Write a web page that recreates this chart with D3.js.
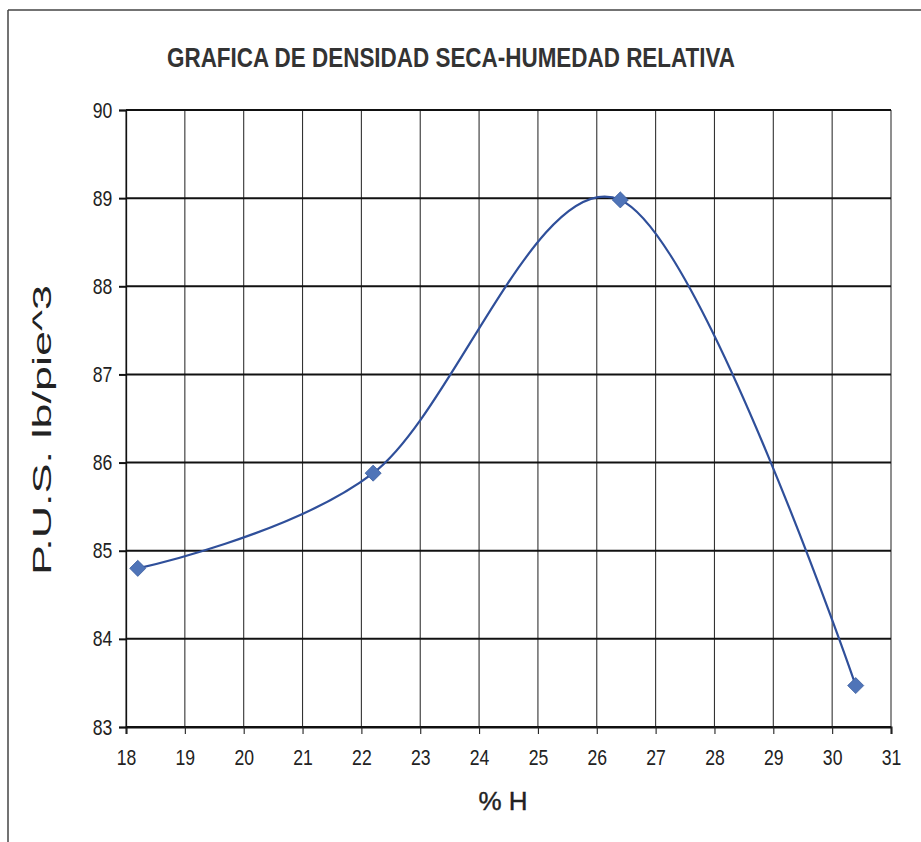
<!DOCTYPE html>
<html>
<head>
<meta charset="utf-8">
<script src="https://cdn.jsdelivr.net/npm/d3@7"></script>
<style>
  html, body { margin: 0; padding: 0; background: #fff; }
  svg { display: block; }
</style>
</head>
<body>
<svg id="chart" width="921" height="842"></svg>
<script>
// ---- data ----
const humedad = [18.2, 22.2, 26.4, 30.4];          // % H
const densidad = [84.8, 85.88, 88.98, 83.47];     // P.U.S. lb/pie^3
const xTicks = [18, 19, 20, 21, 22, 23, 24, 25, 26, 27, 28, 29, 30, 31];
const yTicks = [83, 84, 85, 86, 87, 88, 89, 90];
const titleText = "GRAFICA DE DENSIDAD SECA-HUMEDAD RELATIVA";
const xTitle = "% H";
const yTitle = "P.U.S. lb/pie^3";

const svg = d3.select("#chart");
const font = "'Liberation Sans', Arial, sans-serif";

// outer frame
svg.append("line").attr("x1", 8).attr("x2", 8).attr("y1", 10).attr("y2", 842)
  .attr("stroke", "#444").attr("stroke-width", 1.5);
svg.append("line").attr("x1", 8).attr("x2", 921).attr("y1", 10).attr("y2", 10)
  .attr("stroke", "#444").attr("stroke-width", 1.5);

const x = d3.scaleLinear().domain([18, 31]).range([126, 891]);
const y = d3.scaleLinear().domain([83, 90]).range([727, 110]);

// vertical grid
svg.append("g").selectAll("line").data(xTicks).join("line")
  .attr("x1", d => x(d)).attr("x2", d => x(d))
  .attr("y1", y(90)).attr("y2", y(83))
  .attr("stroke", "#333").attr("stroke-width", 1.1);

// horizontal grid
svg.append("g").selectAll("line").data(yTicks).join("line")
  .attr("x1", x(18)).attr("x2", x(31))
  .attr("y1", d => y(d)).attr("y2", d => y(d))
  .attr("stroke", "#111").attr("stroke-width", 2);

// axes
const xAxis = d3.axisBottom(x).tickValues(xTicks).tickSize(7).tickPadding(15).tickFormat(d3.format("d"));
const gx = svg.append("g").attr("transform", `translate(0,${y(83)})`).call(xAxis);
gx.select(".domain").attr("stroke", "#111").attr("stroke-width", 2);
gx.selectAll(".tick line").attr("stroke", "#222").attr("stroke-width", 1.1);
gx.selectAll("text").attr("font-family", font).attr("font-size", 22).attr("fill", "#222")
  .attr("transform", "scale(0.8,1)");

const yAxis = d3.axisLeft(y).tickValues(yTicks).tickSize(7).tickPadding(7).tickFormat(d3.format("d"));
const gy = svg.append("g").attr("transform", `translate(${x(18)},0)`).call(yAxis);
gy.select(".domain").attr("stroke", "#111").attr("stroke-width", 1.3);
gy.selectAll(".tick line").attr("stroke", "#111").attr("stroke-width", 2);
gy.selectAll("text").attr("font-family", font).attr("font-size", 22).attr("fill", "#222")
  .attr("x", -17).attr("transform", "scale(0.8,1)");

// smoothed curve
const pts = humedad.map((h, i) => [h, densidad[i]]);
const line = d3.line().x(d => x(d[0])).y(d => y(d[1])).curve(d3.curveCatmullRom.alpha(0));
svg.append("path").datum(pts).attr("d", line)
  .attr("fill", "none").attr("stroke", "#2f4f9a").attr("stroke-width", 2.2);

// diamond markers
svg.append("g").selectAll("path").data(pts).join("path")
  .attr("d", d3.symbol().type(d3.symbolDiamond2).size(165))
  .attr("transform", d => `translate(${x(d[0])},${y(d[1])})`)
  .attr("fill", "#4f74b8").attr("stroke", "#3d5f9f").attr("stroke-width", 0.8);

// title
svg.append("text").attr("x", 451).attr("y", 67).attr("text-anchor", "middle")
  .attr("font-family", font).attr("font-weight", "bold").attr("font-size", 27)
  .attr("fill", "#333").attr("textLength", 568).attr("lengthAdjust", "spacingAndGlyphs")
  .text(titleText);

// x title
svg.append("text").attr("x", 503).attr("y", 810).attr("text-anchor", "middle")
  .attr("font-family", font).attr("font-size", 26).attr("fill", "#222")
  .attr("stroke", "#222").attr("stroke-width", 0.4)
  .text(xTitle);

// y title
svg.append("text").attr("transform", "translate(51,430) rotate(-90)")
  .attr("text-anchor", "middle")
  .attr("font-family", font).attr("font-size", 26)
  .attr("fill", "#222").attr("textLength", 290).attr("lengthAdjust", "spacingAndGlyphs")
  .text(yTitle);
</script>
</body>
</html>
